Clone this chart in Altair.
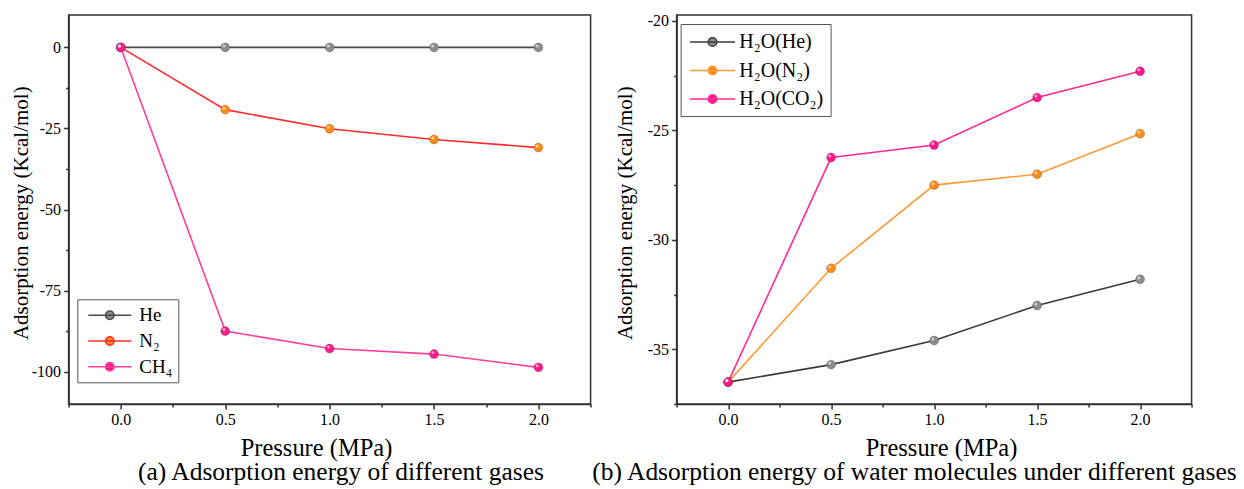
import altair as alt
import pandas as pd

# ---------------- data ----------------
pressure = [0.0, 0.5, 1.0, 1.5, 2.0]

# panel (a): adsorption energy of different gases
gases_a = ["He", "N₂", "CH₄"]
he_a = [0.0, 0.0, 0.0, 0.0, 0.0]
n2_a = [0.0, -19.2, -25.1, -28.4, -30.9]
ch4_a = [0.0, -87.5, -92.9, -94.6, -98.7]
line_colors_a = ["#4a4a4a", "#ff2b2b", "#ff3d9e"]
marker_colors_a = ["#8c8c8c", "#ff8c1a", "#ff1a8c"]

# panel (b): adsorption energy of water molecules under different gases
gases_b = ["H₂O(He)", "H₂O(N₂)", "H₂O(CO₂)"]
he_b = [-36.5, -35.7, -34.6, -33.0, -31.8]
n2_b = [-36.5, -31.3, -27.5, -27.0, -25.15]
co2_b = [-36.5, -26.24, -25.67, -23.5, -22.3]
line_colors_b = ["#3a3a3a", "#ff9933", "#ff2a95"]
marker_colors_b = ["#8c8c8c", "#ff8c1a", "#ff1a8c"]

# axis ticks (major = labelled, minor = short unlabelled ticks)
x_major = [0.0, 0.5, 1.0, 1.5, 2.0]
x_minor = [-0.25, 0.25, 0.75, 1.25, 1.75, 2.25]
y_major_a = [-100, -75, -50, -25, 0]
y_minor_a = [-87.5, -62.5, -37.5, -12.5]
y_major_b = [-35, -30, -25, -20]
y_minor_b = [-37.5, -32.5, -27.5, -22.5]

caption_a = "(a) Adsorption energy of different gases"
caption_b = "(b) Adsorption energy of water molecules under different gases"

FONT = "Liberation Serif"
AX = "#333333"


def long_df(names, series):
    rows = []
    for name, vals in zip(names, series):
        for p, v in zip(pressure, vals):
            rows.append({"series": name, "pressure": p, "energy": v})
    return pd.DataFrame(rows)


common_axis = dict(
    labelFont=FONT, labelFontSize=16, labelColor="black", labelPadding=3,
    titleFont=FONT, titleFontWeight="normal", titleColor="black",
    domainColor=AX, domainWidth=1.5, tickColor=AX, tickWidth=1.5, grid=False,
    labelOverlap=False, labelFlush=False,
)


def panel(df, names, line_cols, marker_cols, ydom, ymaj, ymin,
          width, height, leg, xtitle_x, ytitle_x, ytitle_y, caption, cap_dx):
    xscale = alt.Scale(domain=[-0.25, 2.25], nice=False, zero=False)
    yscale = alt.Scale(domain=ydom, nice=False, zero=False)
    xaxis = alt.Axis(
        orient="bottom", values=x_major, format=".1f", tickSize=5,
        title="Pressure (MPa)", titleFontSize=24.5, titleX=xtitle_x, titleY=52,
        titleBaseline="alphabetic", titleAlign="center", titleAngle=0,
        **common_axis,
    )
    yaxis = alt.Axis(
        orient="left", values=ymaj, labelExpr="toString(datum.value)", tickSize=5,
        title="Adsorption energy (Kcal/mol)", titleFontSize=21, titleX=ytitle_x, titleY=ytitle_y,
        titleBaseline="alphabetic", titleAlign="center", titleAngle=270,
        **common_axis,
    )
    xminor = alt.Axis(orient="bottom", values=x_minor, tickSize=3, labels=False, domain=False,
                      title=None, grid=False, tickColor=AX, tickWidth=1.5)
    yminor = alt.Axis(orient="left", values=ymin, tickSize=3, labels=False, domain=False,
                      title=None, grid=False, tickColor=AX, tickWidth=1.5)
    legend = alt.Legend(
        orient="none", legendX=leg["x"], legendY=leg["y"], title=None,
        symbolType=leg["path"], symbolSize=400, symbolStrokeWidth=1.5,
        labelOffset=leg["laboff"],
        labelFont=FONT, labelFontSize=leg["fs"], labelColor="black", labelLimit=400,
        padding=leg["pad"], rowPadding=leg["rowpad"],
        strokeColor="#555555", fillColor="white",
    )
    base = alt.Chart(df)
    lines = base.mark_line(strokeWidth=1.6).encode(
        x=alt.X("pressure:Q", scale=xscale, axis=xaxis),
        y=alt.Y("energy:Q", scale=yscale, axis=yaxis),
        stroke=alt.Stroke("series:N", scale=alt.Scale(domain=names, range=line_cols), legend=legend),
    )
    points = base.mark_point(filled=True, size=80, opacity=1, stroke="black",
                             strokeOpacity=0.25, strokeWidth=0.8).encode(
        x=alt.X("pressure:Q", axis=None),
        y=alt.Y("energy:Q", axis=None),
        fill=alt.Fill("series:N", scale=alt.Scale(domain=names, range=marker_cols), legend=legend),
    )
    shine = base.mark_circle(color="white", opacity=0.6, size=9, xOffset=-1.3, yOffset=-1.5).encode(
        x=alt.X("pressure:Q", axis=xminor),
        y=alt.Y("energy:Q", axis=yminor),
    )
    return alt.layer(lines, points, shine).resolve_axis(x="independent", y="independent").properties(
        width=width, height=height,
        title=alt.TitleParams(text=caption, orient="bottom", anchor="start", frame="group",
                              dx=cap_dx, offset=0, font=FONT, fontSize=25.5,
                              fontWeight="normal", color="black"),
    )


left = panel(
    long_df(gases_a, [he_a, n2_a, ch4_a]), gases_a, line_colors_a, marker_colors_a,
    [-110, 10], y_major_a, y_minor_a, 522, 389,
    {"x": 8.7, "y": 284.3,
     "path": "M-0.5,0L3.8,0M1.22,0A0.43,0.43,0,1,0,2.08,0A0.43,0.43,0,1,0,1.22,0Z",
     "laboff": 35, "pad": 5, "rowpad": 4.7, "fs": 19},
    247.4, -40.6, 197.7, caption_a, 69.4,
)
right = panel(
    long_df(gases_b, [he_b, n2_b, co2_b]), gases_b, line_colors_b, marker_colors_b,
    [-37.5, -19.726], y_major_b, y_minor_b, 515, 389,
    {"x": 4, "y": 9,
     "path": "M-0.86,0L3.64,0M0.96,0A0.43,0.43,0,1,0,1.82,0A0.43,0.43,0,1,0,0.96,0Z",
     "laboff": 29.7, "pad": 7, "rowpad": 7.5, "fs": 20},
    264.4, -45, 197.7, caption_b, -84.3,
)

chart = (
    alt.hconcat(left, right, spacing=-2)
    .resolve_scale(x="independent", y="independent", stroke="independent", fill="independent")
    .resolve_legend(stroke="independent", fill="independent")
    .properties(padding={"left": 9.6, "top": 12, "right": 0, "bottom": 0}, background="white")
    .configure(font=FONT)
    .configure_view(stroke=AX, strokeWidth=1.5)
)

chart.save("out.html", embed_options={"renderer": "svg", "actions": False})
